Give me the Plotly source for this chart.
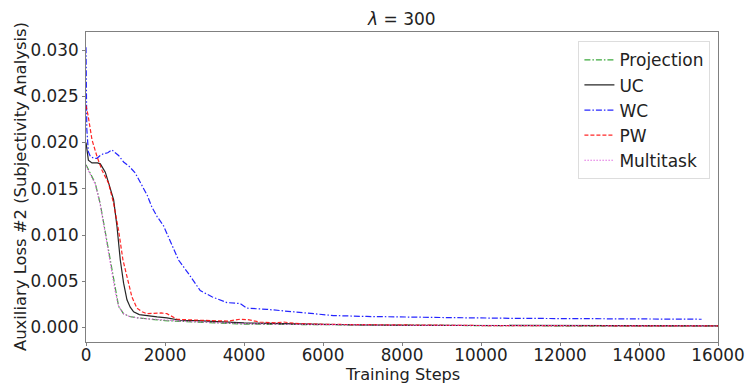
import plotly.graph_objects as go

# Auxiliary loss #2 (subjectivity analysis) over training steps, lambda = 300
proj_steps = [0, 100, 235, 360, 445, 530, 600, 660, 740, 825, 950, 1100, 1300, 1550, 2000,
              2400, 2800, 3500, 4000, 5000, 6000, 7000, 8000, 10000, 12000, 14000, 16000]
proj_loss = [0.0176, 0.0168, 0.0156, 0.0134, 0.0113, 0.0094, 0.0075, 0.0061, 0.0040, 0.0023,
             0.0015, 0.0012, 0.00105, 0.00095, 0.00075, 0.00068, 0.00060, 0.00045, 0.00037,
             0.00034, 0.00030, 0.00027, 0.00024, 0.00021, 0.00019, 0.00018, 0.00017]

uc_steps = [0, 30, 60, 150, 290, 362, 420, 488, 560, 615, 700, 785, 868, 952, 1037, 1120, 1205,
            1350, 1543, 1800, 2050, 2386, 2800, 3500, 4000, 5000, 6000, 7000, 8000, 10000,
            12000, 14000, 16000]
uc_loss = [0.0200, 0.0188, 0.0181, 0.0178, 0.0178, 0.0177, 0.0173, 0.0168, 0.0158, 0.0149,
           0.0138, 0.0109, 0.0073, 0.0048, 0.0030, 0.0022, 0.0017, 0.0014, 0.00126, 0.00115,
           0.00104, 0.00079, 0.00075, 0.00060, 0.00050, 0.00042, 0.00033, 0.00028, 0.00025,
           0.00022, 0.00020, 0.00019, 0.00018]

wc_steps = [0, 20, 60, 109, 200, 278, 360, 445, 550, 657, 740, 825, 952, 1100, 1247, 1416, 1550,
            1670, 1800, 1963, 2150, 2343, 2600, 2892, 3200, 3567, 3900, 4073, 4579, 5000, 5422,
            6265, 7108, 7950, 9130, 10816, 12506, 14193, 15585]
wc_loss = [0.0303, 0.0215, 0.0190, 0.0185, 0.0183, 0.0183, 0.0186, 0.0188, 0.0189, 0.0192,
           0.0189, 0.0186, 0.0179, 0.0174, 0.0167, 0.0154, 0.0143, 0.0130, 0.0120, 0.0110,
           0.0092, 0.0073, 0.0058, 0.0040, 0.0033, 0.0027, 0.0026, 0.0021, 0.00197, 0.0018,
           0.0016, 0.0013, 0.0012, 0.00118, 0.00108, 0.0010, 0.00097, 0.00095, 0.00090]

pw_steps = [0, 50, 152, 278, 405, 572, 700, 825, 936, 1037, 1163, 1290, 1420, 1543, 1700, 1796,
            1900, 2050, 2200, 2302, 2808, 3200, 3600, 3900, 4100, 4400, 4800, 5000, 5300, 6000,
            7000, 8000, 10000, 12000, 14000, 16000]
pw_loss = [0.0240, 0.0230, 0.0203, 0.0185, 0.0170, 0.0156, 0.0134, 0.0105, 0.0073, 0.0055,
           0.0033, 0.0021, 0.0017, 0.0015, 0.00155, 0.0016, 0.00158, 0.0015, 0.0011, 0.0009,
           0.0008, 0.00078, 0.0007, 0.0009, 0.00085, 0.0006, 0.0005, 0.0006, 0.00045, 0.00035,
           0.0003, 0.00025, 0.00022, 0.0002, 0.00019, 0.00018]

mt_steps = [0, 100, 235, 360, 445, 530, 600, 660, 740, 825, 950, 1100, 1300, 1550, 2000,
            2400, 2800, 3500, 4000, 5000, 6000, 7000, 8000, 10000, 12000, 14000, 16000]
mt_loss = [0.0175, 0.0167, 0.0155, 0.0133, 0.0112, 0.0093, 0.0074, 0.0060, 0.0039, 0.0023,
           0.0015, 0.0012, 0.00105, 0.00095, 0.00078, 0.00070, 0.00062, 0.00048, 0.00042,
           0.00036, 0.00031, 0.00028, 0.00025, 0.00022, 0.00020, 0.00018, 0.00017]

series = [
    ("Projection", proj_steps, proj_loss, "#1a9a1a", "6px,2px,1.5px,2px"),
    ("UC", uc_steps, uc_loss, "#000000", "solid"),
    ("WC", wc_steps, wc_loss, "#0000ff", "6px,2px,1.5px,2px"),
    ("PW", pw_steps, pw_loss, "#ff0000", "4px,2px"),
    ("Multitask", mt_steps, mt_loss, "#dd55dd", "1.5px,1.5px"),
]

fig = go.Figure()
for name, xs, ys, color, dash in series:
    fig.add_trace(go.Scatter(
        x=xs, y=ys, name=name, mode="lines",
        line=dict(color=color, width=1.2, dash=dash),
        opacity=0.85,
    ))

axis_common = dict(
    showgrid=False, zeroline=False, showline=True, mirror=True, automargin=False,
    linecolor="#808080", linewidth=1, ticks="outside", ticklen=3,
    tickcolor="#808080", tickfont=dict(size=16.8, color="#222"),
)

W, H = 747, 384
fig.update_layout(
    width=W, height=H,
    margin=dict(l=86, r=29, t=32, b=42),
    paper_bgcolor="white", plot_bgcolor="white",
    font=dict(family="DejaVu Sans", size=17, color="#222"),
    title=dict(text="<i>λ</i> = 300", x=0.538, xanchor="center", y=0.95, yanchor="middle",
               font=dict(size=17), automargin=False),
    xaxis=dict(range=[0, 16000], dtick=2000, tickformat="d", ticklabelstandoff=-5,
               **axis_common),
    yaxis=dict(range=[-0.00156, 0.03195], dtick=0.005, tickformat=".3f", **axis_common),
    legend=dict(x=0.988, y=0.97, xanchor="right", yanchor="top",
                bordercolor="#dddddd", borderwidth=1, bgcolor="rgba(255,255,255,0.8)",
                font=dict(size=17), tracegroupgap=0, itemwidth=30),
)

# Axis titles placed in paper pixels below / left of the tick labels
fig.add_annotation(text="Training Steps", xref="paper", yref="paper",
                   x=0.5, y=-(374 - (H - 42)) / (H - 32 - 42), xanchor="center",
                   yanchor="middle", showarrow=False, font=dict(size=16.2))
fig.add_annotation(text="Auxiliary Loss #2 (Subjectivity Analysis)", xref="paper",
                   yref="paper", x=-(86 - 20) / (W - 86 - 29), y=0.5, xanchor="center",
                   yanchor="middle", textangle=-90, showarrow=False, font=dict(size=16.4))

fig.write_html("out.html")
